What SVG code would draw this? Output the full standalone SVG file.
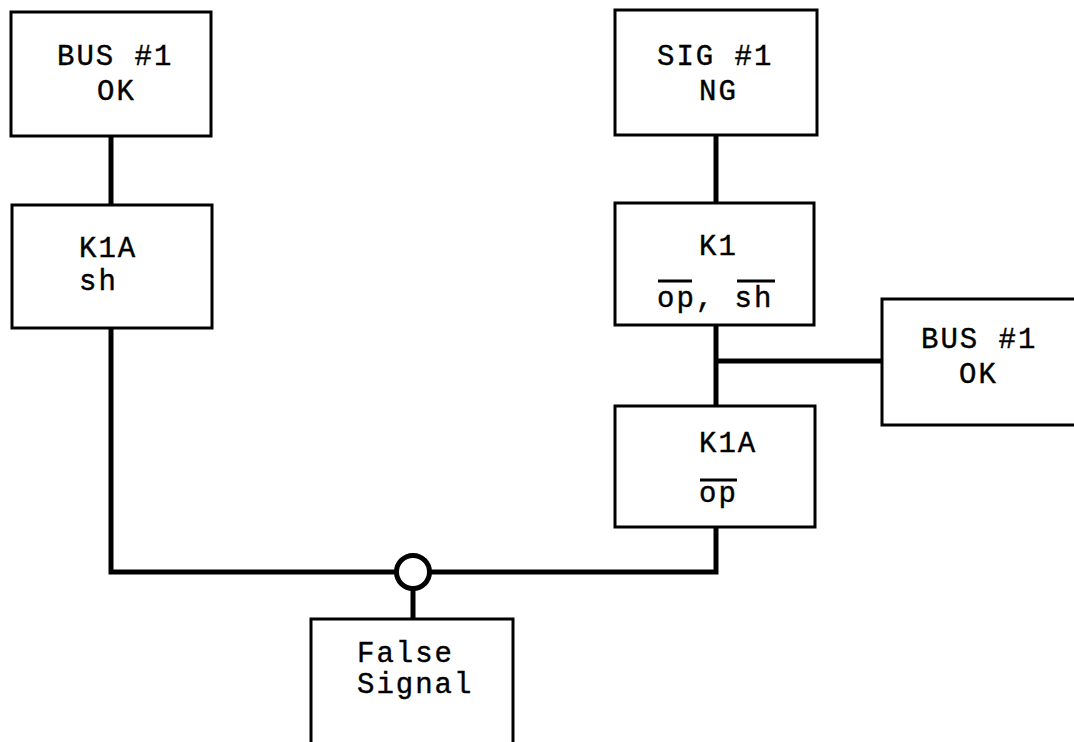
<svg xmlns="http://www.w3.org/2000/svg" width="1074" height="742" viewBox="0 0 1074 742">
  <style>
    .box { fill: #fff; stroke: #000; stroke-width: 3; }
    .wire { fill: none; stroke: #000; stroke-width: 5; stroke-linejoin: miter; }
    .bar { stroke: #000; stroke-width: 3; }
    text { font-family: "Liberation Mono", "Courier New", monospace; font-size: 29px; letter-spacing: 2px; fill: #000; stroke: #000; stroke-width: 0.4; }
  </style>
  <rect width="1074" height="742" fill="#fff"/>
  <g id="connectors">
    <line class="wire" x1="111" y1="136" x2="111" y2="205"/>
    <polyline class="wire" points="111,328 111,572 396,572"/>
    <polyline class="wire" points="430,572 716,572 716,527"/>
    <line class="wire" x1="716" y1="135" x2="716" y2="203"/>
    <line class="wire" x1="716" y1="325" x2="716" y2="406"/>
    <line class="wire" x1="716" y1="361" x2="882" y2="361"/>
    <line class="wire" x1="413" y1="589" x2="413" y2="619"/>
    <circle cx="413" cy="572" r="16.5" fill="#fff" stroke="#000" stroke-width="5"/>
  </g>
  <g id="bus1-left">
    <rect class="box" x="11" y="12" width="200" height="124"/>
    <text x="57" y="65">BUS #1</text>
    <text x="97" y="100">OK</text>
  </g>
  <g id="k1a-sh">
    <rect class="box" x="12" y="205" width="200" height="123"/>
    <text x="79" y="257">K1A</text>
    <text x="79" y="290">sh</text>
  </g>
  <g id="sig1">
    <rect class="box" x="615" y="10" width="202" height="125"/>
    <text x="657" y="65">SIG #1</text>
    <text x="699" y="100">NG</text>
  </g>
  <g id="k1">
    <rect class="box" x="615" y="203" width="199" height="122"/>
    <text x="699" y="255">K1</text>
    <text x="657" y="307">op, sh</text>
    <line class="bar" x1="658" y1="281" x2="692" y2="281"/>
    <line class="bar" x1="737" y1="281" x2="775" y2="281"/>
  </g>
  <g id="k1a-op">
    <rect class="box" x="615" y="406" width="200" height="121"/>
    <text x="699" y="452">K1A</text>
    <text x="699" y="502">op</text>
    <line class="bar" x1="700" y1="480" x2="737" y2="480"/>
  </g>
  <g id="bus1-right">
    <rect class="box" x="882" y="299" width="200" height="126"/>
    <text x="921" y="348">BUS #1</text>
    <text x="959" y="383">OK</text>
  </g>
  <g id="false-signal">
    <rect class="box" x="311" y="619" width="202" height="130"/>
    <text x="357" y="662">False</text>
    <text x="357" y="693">Signal</text>
  </g>
</svg>
